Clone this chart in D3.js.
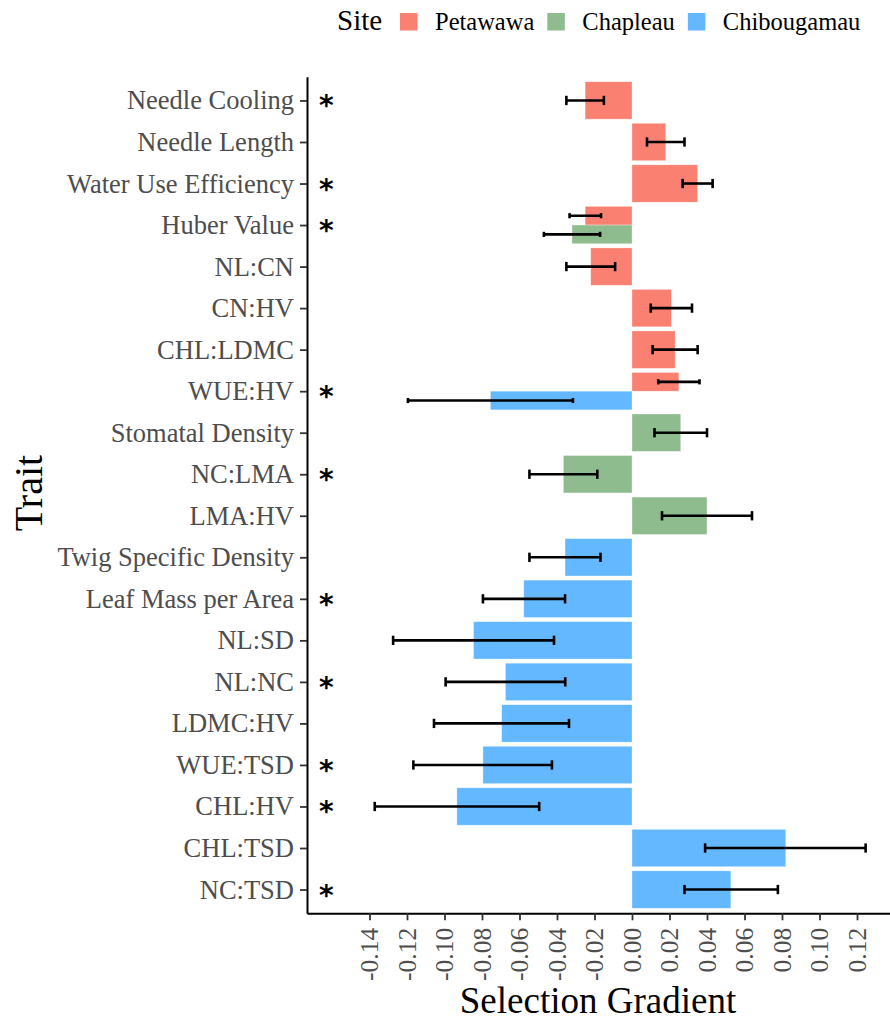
<!DOCTYPE html>
<html><head><meta charset="utf-8">
<script src="https://cdn.jsdelivr.net/npm/d3@7"></script>
<style>body{margin:0;background:#fff}svg{display:block}</style>
</head><body><svg id="c" width="890" height="1025"></svg>
<script>
const traits = ["Needle Cooling","Needle Length","Water Use Efficiency","Huber Value","NL:CN","CN:HV","CHL:LDMC","WUE:HV","Stomatal Density","NC:LMA","LMA:HV","Twig Specific Density","Leaf Mass per Area","NL:SD","NL:NC","LDMC:HV","WUE:TSD","CHL:HV","CHL:TSD","NC:TSD"];
const sites = ["Petawawa","Chapleau","Chibougamau"];
const siteColors = ["#FA8072","#8FBC8F","#63B8FF"];

const barTrait = ["Needle Cooling","Needle Length","Water Use Efficiency","Huber Value","Huber Value","NL:CN","CN:HV","CHL:LDMC","WUE:HV","WUE:HV","Stomatal Density","NC:LMA","LMA:HV","Twig Specific Density","Leaf Mass per Area","NL:SD","NL:NC","LDMC:HV","WUE:TSD","CHL:HV","CHL:TSD","NC:TSD"];
const barSite = ["Petawawa","Petawawa","Petawawa","Petawawa","Chapleau","Petawawa","Petawawa","Petawawa","Petawawa","Chibougamau","Chapleau","Chapleau","Chapleau","Chibougamau","Chibougamau","Chibougamau","Chibougamau","Chibougamau","Chibougamau","Chibougamau","Chibougamau","Chibougamau"];
const barValue = [-0.025,0.018,0.035,-0.025,-0.032,-0.022,0.021,0.023,0.025,-0.0755,0.026,-0.0366,0.040,-0.0357,-0.0577,-0.0845,-0.0675,-0.0695,-0.0795,-0.0934,0.082,0.0527];
const barLower = [-0.035,0.008,0.027,-0.0333,-0.047,-0.035,0.010,0.011,0.014,-0.1195,0.012,-0.0547,0.016,-0.0547,-0.0795,-0.1274,-0.0994,-0.1056,-0.1166,-0.1372,0.039,0.028];
const barUpper = [-0.015,0.028,0.043,-0.0165,-0.017,-0.009,0.032,0.035,0.036,-0.0315,0.040,-0.0185,0.064,-0.0168,-0.0357,-0.0416,-0.0356,-0.0336,-0.0427,-0.0495,0.1246,0.0778];

const significant = ["Needle Cooling","Water Use Efficiency","Huber Value","WUE:HV","NC:LMA","Leaf Mass per Area","NL:NC","WUE:TSD","CHL:HV","NC:TSD"];
const starX = -0.163;

const xTicks = [-0.14,-0.12,-0.10,-0.08,-0.06,-0.04,-0.02,0.00,0.02,0.04,0.06,0.08,0.10,0.12];
const xTickLabels = ["-0.14","-0.12","-0.10","-0.08","-0.06","-0.04","-0.02","0.00","0.02","0.04","0.06","0.08","0.10","0.12"];

const serif = "'Liberation Serif','Times New Roman',serif";
const svg = d3.select("#c");
const L = 307, R = 890, T = 76.7, B = 913.3;

const x = d3.scaleLinear().domain([-0.17333, 0.1376]).range([L, R]);
const y = d3.scalePoint().domain(traits).range([T, B]).padding(0.572);
const step = y.step();
const bandH = step * 0.9;
const color = d3.scaleOrdinal().domain(sites).range(siteColors);

const bars = barTrait.map((t,i)=>({trait:t, site:barSite[i], value:barValue[i], lo:barLower[i], hi:barUpper[i]}));
const groups = d3.group(bars, d=>d.trait);
bars.forEach(d=>{
  const g = groups.get(d.trait).slice().sort((a,b)=>sites.indexOf(a.site)-sites.indexOf(b.site));
  const n = g.length, k = g.indexOf(d);
  d.h = bandH / n;
  d.y0 = y(d.trait) - bandH/2 + k*d.h;
  d.n = n;
});

// bars
svg.append("g").selectAll("rect").data(bars).join("rect")
  .attr("x", d=>x(Math.min(0,d.value)))
  .attr("width", d=>Math.abs(x(d.value)-x(0)))
  .attr("y", d=>d.y0)
  .attr("height", d=>d.h)
  .attr("fill", d=>color(d.site))
  .attr("stroke","#fff").attr("stroke-opacity",0.5).attr("stroke-width",0.6);

// error bars
const eb = svg.append("g").attr("stroke","#000").attr("stroke-width",2.6);
bars.forEach(d=>{
  const cy = d.y0 + d.h/2, cap = 0.2*step/d.n/2 + 0.5;
  eb.append("line").attr("x1",x(d.lo)).attr("x2",x(d.hi)).attr("y1",cy).attr("y2",cy);
  eb.append("line").attr("x1",x(d.lo)).attr("x2",x(d.lo)).attr("y1",cy-cap).attr("y2",cy+cap);
  eb.append("line").attr("x1",x(d.hi)).attr("x2",x(d.hi)).attr("y1",cy-cap).attr("y2",cy+cap);
});

// asterisks
svg.append("g").selectAll("text").data(significant).join("text")
  .attr("x", x(starX)).attr("y", d=>y(d)+15)
  .attr("text-anchor","middle")
  .style("font-family","'DejaVu Sans',sans-serif").style("font-size","28px").style("font-weight","bold")
  .text("*");

// axes
const yAxis = svg.append("g").attr("transform",`translate(${L},0)`)
  .call(d3.axisLeft(y).tickSize(7).tickSizeOuter(0).tickPadding(6));
const xAxis = svg.append("g").attr("transform",`translate(0,${B})`)
  .call(d3.axisBottom(x).tickValues(xTicks).tickFormat((d,i)=>xTickLabels[i]).tickSize(7).tickSizeOuter(0));
[yAxis,xAxis].forEach(a=>{
  a.select(".domain").attr("stroke","#000").attr("stroke-width",2);
  a.selectAll(".tick line").attr("stroke","#333").attr("stroke-width",1.8);
  a.selectAll(".tick text").attr("fill","#4D4D4D").style("font-family",serif);
});
yAxis.selectAll(".tick text").style("font-size","26.5px");
xAxis.selectAll(".tick text").style("font-size","25.5px")
  .attr("transform","rotate(-90)").attr("text-anchor","end")
  .attr("x",-14.5).attr("y",0).attr("dy","0.33em");

// axis titles
svg.append("text").attr("transform","translate(42,493) rotate(-90)")
  .attr("text-anchor","middle").style("font-family",serif).style("font-size","40px").text("Trait");
svg.append("text").attr("x",598).attr("y",1013)
  .attr("text-anchor","middle").style("font-family",serif).style("font-size","37px").text("Selection Gradient");

// legend
const lg = svg.append("g");
lg.append("text").attr("x",337).attr("y",30).style("font-family",serif).style("font-size","29px").text("Site");
let lx = 400;
sites.forEach((s,i)=>{
  lg.append("rect").attr("x",lx).attr("y",13).attr("width",17.5).attr("height",17.5).attr("fill",siteColors[i]);
  const t = lg.append("text").attr("x",lx+35).attr("y",29.5).style("font-family",serif).style("font-size","24.5px").text(s);
  lx = lx + 35 + t.node().getComputedTextLength() + 13;
});
</script></body></html>
